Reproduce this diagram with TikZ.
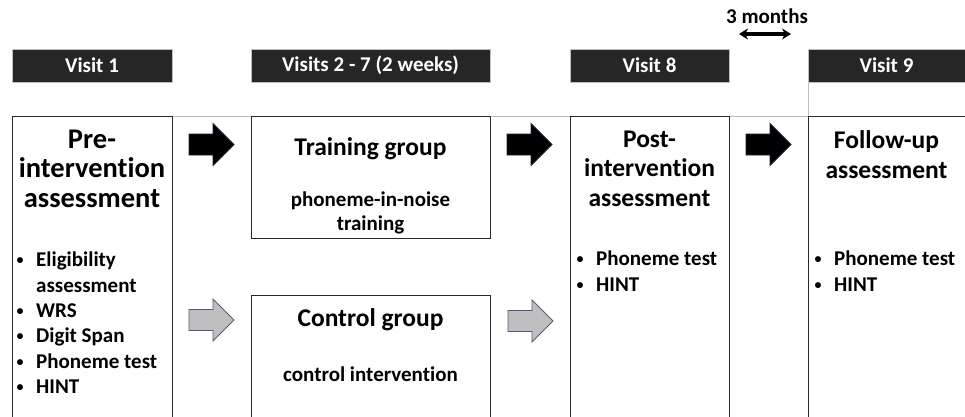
\documentclass[tikz,border=0pt]{standalone}
\usepackage{fontspec}
\setmainfont{Carlito}[Ligatures={NoCommon}]
\usetikzlibrary{arrows.meta}
\definecolor{hdr}{RGB}{38,38,38}
\definecolor{gline}{RGB}{191,191,191}
\definecolor{boxline}{RGB}{40,40,40}
\definecolor{navy}{RGB}{30,30,60}
\definecolor{garrow}{RGB}{191,191,191}
\definecolor{garrowline}{RGB}{90,90,120}
\newcommand{\blkarrow}[4]{% x0, yc, fill, draw
  \draw[#4, line width=0.8pt, fill=#3, line join=miter]
    (#1,#2-10.5) -- (#1+24,#2-10.5) -- (#1+24,#2-21) -- (#1+45,#2) --
    (#1+24,#2+21) -- (#1+24,#2+10.5) -- (#1,#2+10.5) -- cycle;}
\newcommand{\bul}{\makebox[22pt][l]{\hspace{2.5pt}\raisebox{2pt}{\fontsize{14}{14}\selectfont •}}}
\tikzset{
  hdrbar/.style={fill=hdr, draw=gline, line width=0.4pt, inner sep=0pt},
  hdrtext/.style={text=white, font=\fontsize{21}{24}\selectfont\bfseries, inner sep=0pt},
  panel/.style={draw=boxline, line width=1pt, fill=white},
  title/.style={font=\fontsize{28.5}{29.5}\selectfont\bfseries, align=center, inner sep=0pt},
  stitle/.style={font=\fontsize{25.5}{29.5}\selectfont\bfseries, align=center, inner sep=0pt},
  gtitle/.style={font=\fontsize{25.5}{28}\selectfont\bfseries, align=center, inner sep=0pt},
  sub/.style={font=\fontsize{21}{23.5}\selectfont\bfseries, align=center, inner sep=0pt},
  bullets/.style={font=\fontsize{21}{25.3}\selectfont\bfseries, align=left, inner sep=0pt, anchor=north west},
  sbullets/.style={font=\fontsize{21}{26}\selectfont\bfseries, align=left, inner sep=0pt, anchor=north west},
}
\begin{document}
\begin{tikzpicture}[x=1pt,y=-1pt]
\clip (0,0) rectangle (965,416);
\fill[white] (0,0) rectangle (965,416);
% gray table lines
\draw[gline, line width=0.8pt] (12,116) -- (965,116);
\draw[gline, line width=0.8pt] (808,49) -- (808,116);
% header bars
\draw[hdrbar] (12,49) rectangle (172,82);
\draw[hdrbar] (251,49) rectangle (490,82);
\draw[hdrbar] (570,49) rectangle (729,82);
\draw[hdrbar] (808,49) rectangle (970,82);
\node[hdrtext] (h1) at (92,65.5) {Visit 1};
\node[hdrtext] (h2) at (370.5,65.5) {Visits 2 - 7 (2 weeks)};
\node[hdrtext] (h3) at (649.5,65.5) {Visit 8};
\node[hdrtext] (h4) at (886.5,65.5) {Visit 9};
% 3 months
\node[font=\fontsize{21}{24}\selectfont\bfseries, inner sep=0pt] (three) at (767,16) {3 months};
\coordinate (dl) at (739,34);
\coordinate (dr) at (791,34);
\draw[line width=3.4pt, {Stealth[length=9pt,width=11pt]}-{Stealth[length=9pt,width=11pt]}] (dl) -- (dr);
% panels
\draw[panel] (12,116) rectangle (172,430);
\draw[panel] (251,116) rectangle (490,238);
\draw[panel] (251,295) rectangle (490,430);
\draw[panel] (570,116) rectangle (729,430);
\draw[panel] (808,116) rectangle (975,430);
% panel texts
\node[title] (pre) at (92,168.5) {Pre-\\intervention\\assessment};
\node[bullets] (prel) at (14,252) {\bul Eligibility\\\hspace*{22pt}assessment\\\bul WRS\\\bul Digit Span\\\bul Phoneme test\\\bul HINT};
\node[gtitle] (tg) at (370.5,148.5) {Training group};
\node[sub] (tgs) at (370.5,213) {phoneme-in-noise\\training};
\node[gtitle] (cg) at (370.5,319.5) {Control group};
\node[sub] (cgs) at (370.5,374.5) {control intervention};
\node[stitle] (post) at (649.5,168.5) {Post-\\intervention\\assessment};
\node[sbullets] (postl) at (574,251) {\bul Phoneme test\\\bul HINT};
\node[stitle] (fu) at (886.5,154.5) {Follow-up\\assessment};
\node[sbullets] (ful) at (812,251) {\bul Phoneme test\\\bul HINT};
% block arrows
\blkarrow{189}{144.5}{black}{navy}
\blkarrow{507}{144.5}{black}{navy}
\blkarrow{746}{144.5}{black}{navy}
\blkarrow{189}{320}{garrow}{garrowline}
\blkarrow{508}{321}{garrow}{garrowline}
\end{tikzpicture}
\end{document}
